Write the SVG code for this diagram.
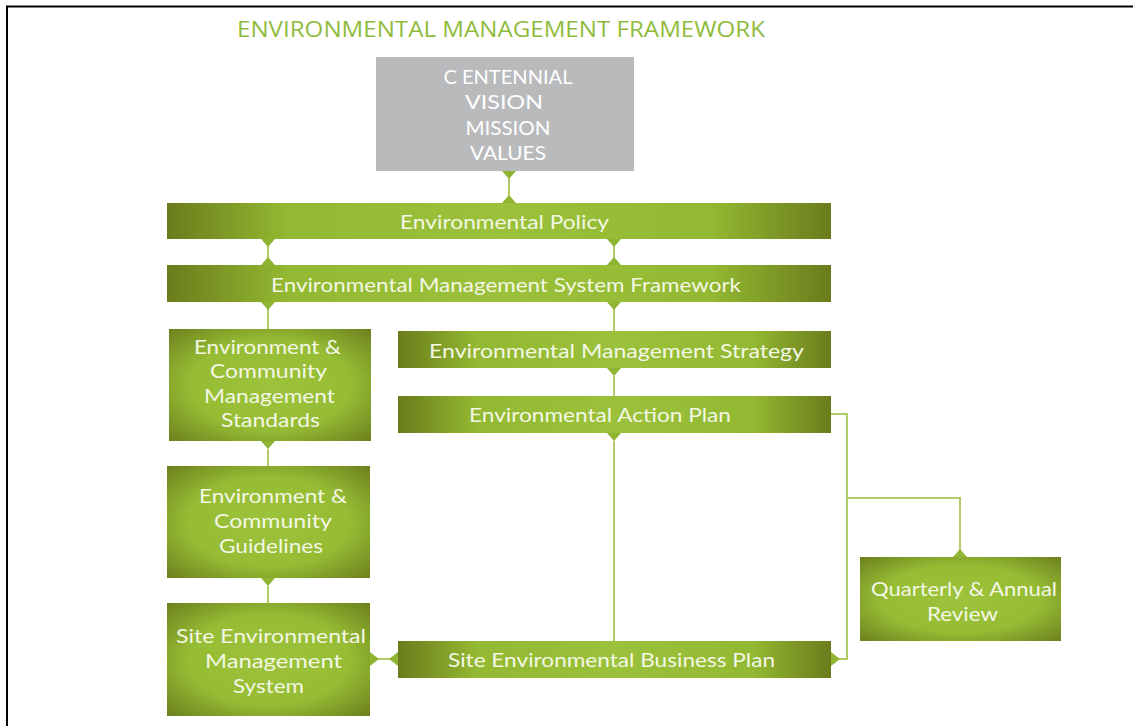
<svg xmlns="http://www.w3.org/2000/svg" width="1133" height="726" viewBox="0 0 1133 726">
<style>
.lbl{font-family:Lato,"Open Sans",sans-serif;font-size:20px;fill:#f3f7e4;text-anchor:middle}
.gl{font-family:Lato,"Open Sans",sans-serif;font-size:20px;fill:#ffffff;text-anchor:middle}
.ttl{font-family:"Open Sans","Liberation Sans",sans-serif;font-size:22px;fill:#8fbb3c}
.ln{stroke:#b2cc6a;stroke-width:2;fill:none}
.tri{fill:#8fb533}
</style>
<defs>
<linearGradient id="hg" x1="0" y1="0" x2="1" y2="0">
<stop offset="0" stop-color="#6a7c1c"/>
<stop offset="0.18" stop-color="#93b831"/>
<stop offset="0.5" stop-color="#9bc13a"/>
<stop offset="0.82" stop-color="#93b831"/>
<stop offset="1" stop-color="#6a7c1c"/>
</linearGradient>
<radialGradient id="rg" cx="0.5" cy="0.5" r="0.72">
<stop offset="0" stop-color="#9cc33b"/>
<stop offset="0.55" stop-color="#96bc34"/>
<stop offset="1" stop-color="#6a7d1c"/>
</radialGradient>
</defs>
<rect x="0" y="0" width="1133" height="726" fill="#ffffff"/>
<path d="M7 726 V6.5 H1133" stroke="#000" stroke-width="2" fill="none"/>
<text class="ttl" x="237" y="37" textLength="528" lengthAdjust="spacingAndGlyphs">ENVIRONMENTAL MANAGEMENT FRAMEWORK</text>

<g id="connectors">
<path class="ln" d="M509 178 V196"/>
<path class="ln" d="M268 246 V258 M614 246 V258"/>
<path class="ln" d="M268 309 V329 M614 309 V331"/>
<path class="ln" d="M614 376 V396"/>
<path class="ln" d="M614 441 V641"/>
<path class="ln" d="M268 449 V466 M268 586 V603"/>
<path class="ln" d="M831 414 H847 V659 H839"/>
<path class="ln" d="M847 498 H960 V551"/>
<path class="ln" d="M378 659 H390"/>
<polygon class="tri" points="502,171 516,171 509,179"/>
<polygon class="tri" points="502,203 516,203 509,195"/>
<polygon class="tri" points="261,239 275,239 268,247"/>
<polygon class="tri" points="607,239 621,239 614,247"/>
<polygon class="tri" points="261,265 275,265 268,257"/>
<polygon class="tri" points="607,265 621,265 614,257"/>
<polygon class="tri" points="261,302 275,302 268,310"/>
<polygon class="tri" points="607,302 621,302 614,310"/>
<polygon class="tri" points="607,368 621,368 614,376"/>
<polygon class="tri" points="607,433 621,433 614,441"/>
<polygon class="tri" points="261,441 275,441 268,449"/>
<polygon class="tri" points="261,578 275,578 268,586"/>
<polygon class="tri" points="370,652 370,666 379,659"/>
<polygon class="tri" points="398,652 398,666 389,659"/>
<polygon class="tri" points="831,652 831,666 840,659"/>
<polygon class="tri" points="953,557 967,557 960,549"/>
</g>

<g id="n-cvmv">
<rect x="376" y="57" width="258" height="114" fill="#b9babc"/>
<text class="gl" x="508" y="84" textLength="129" lengthAdjust="spacingAndGlyphs"><tspan>C</tspan><tspan dx="5">ENTENNIAL</tspan></text>
<text class="gl" x="504" y="109" textLength="78" lengthAdjust="spacingAndGlyphs">VISION</text>
<text class="gl" x="508" y="135" textLength="85" lengthAdjust="spacingAndGlyphs">MISSION</text>
<text class="gl" x="508" y="160" textLength="76" lengthAdjust="spacingAndGlyphs">VALUES</text>
</g>

<g id="n-policy">
<rect x="167" y="203" width="664" height="36" fill="url(#hg)"/>
<text class="lbl" x="504.5" y="229" textLength="209" lengthAdjust="spacingAndGlyphs">Environmental Policy</text>
</g>

<g id="n-emsf">
<rect x="167" y="265" width="664" height="37" fill="url(#hg)"/>
<text class="lbl" x="506" y="292" textLength="470" lengthAdjust="spacingAndGlyphs">Environmental Management System Framework</text>
</g>

<g id="n-standards">
<rect x="169" y="329" width="202" height="112" fill="url(#rg)"/>
<text class="lbl" x="267.5" y="354" textLength="147" lengthAdjust="spacingAndGlyphs">Environment &amp;</text>
<text class="lbl" x="268.5" y="378" textLength="117" lengthAdjust="spacingAndGlyphs">Community</text>
<text class="lbl" x="269.5" y="403" textLength="131" lengthAdjust="spacingAndGlyphs">Management</text>
<text class="lbl" x="270.5" y="427" textLength="99" lengthAdjust="spacingAndGlyphs">Standards</text>
</g>

<g id="n-strategy">
<rect x="398" y="331" width="433" height="37" fill="url(#hg)"/>
<text class="lbl" x="616.5" y="358" textLength="375" lengthAdjust="spacingAndGlyphs">Environmental  Management Strategy</text>
</g>

<g id="n-action">
<rect x="398" y="396" width="433" height="37" fill="url(#hg)"/>
<text class="lbl" x="600" y="422" textLength="262" lengthAdjust="spacingAndGlyphs">Environmental  Action Plan</text>
</g>

<g id="n-guidelines">
<rect x="167" y="466" width="203" height="112" fill="url(#rg)"/>
<text class="lbl" x="273" y="503" textLength="148" lengthAdjust="spacingAndGlyphs">Environment &amp;</text>
<text class="lbl" x="273" y="528" textLength="118" lengthAdjust="spacingAndGlyphs">Community</text>
<text class="lbl" x="271" y="553" textLength="104" lengthAdjust="spacingAndGlyphs">Guidelines</text>
</g>

<g id="n-sems">
<rect x="167" y="603" width="203" height="113" fill="url(#rg)"/>
<text class="lbl" x="271" y="643" textLength="190" lengthAdjust="spacingAndGlyphs">Site Environmental</text>
<text class="lbl" x="273.5" y="668" textLength="137" lengthAdjust="spacingAndGlyphs">Management</text>
<text class="lbl" x="268.5" y="693" textLength="71" lengthAdjust="spacingAndGlyphs">System</text>
</g>

<g id="n-business">
<rect x="398" y="641" width="433" height="37" fill="url(#hg)"/>
<text class="lbl" x="611.5" y="667" textLength="327" lengthAdjust="spacingAndGlyphs">Site Environmental  Business Plan</text>
</g>

<g id="n-review">
<rect x="860" y="557" width="201" height="84" fill="url(#rg)"/>
<text class="lbl" x="964" y="596" textLength="186" lengthAdjust="spacingAndGlyphs">Quarterly &amp; Annual</text>
<text class="lbl" x="962.5" y="621" textLength="71" lengthAdjust="spacingAndGlyphs">Review</text>
</g>
</svg>
